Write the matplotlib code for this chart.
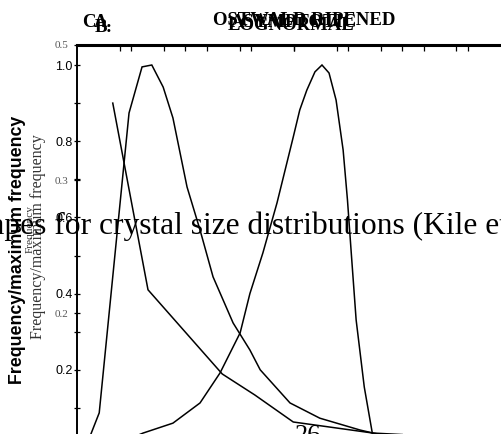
import matplotlib
matplotlib.use("Agg")
import matplotlib.pyplot as plt
from matplotlib.ticker import MultipleLocator

W, H = 501, 434

# crystal size (arbitrary units) and frequency / maximum frequency
lognormal_x = [1.7, 4.1, 9.6, 12.0, 13.8, 15.9, 17.7, 20.3, 22.7, 25.1, 28.8, 31.9, 33.8, 39.3, 44.8, 52.2, 54.6, 60.0]
lognormal_y = [0.0, 0.087, 0.874, 0.995, 1.0, 0.942, 0.861, 0.68, 0.567, 0.444, 0.323, 0.252, 0.2, 0.113, 0.073, 0.042, 0.034, 0.02]

asymptotic_x = [6.6, 13.1, 26.8, 32.8, 39.9, 54.6, 60.0]
asymptotic_y = [0.9, 0.41, 0.189, 0.134, 0.063, 0.034, 0.03]

ostwald_x = [6.5, 12.2, 17.7, 22.7, 26.4, 30.1, 31.9, 34.3, 36.9, 39.9, 41.1, 42.4, 43.9, 45.2, 46.5, 47.8, 49.1, 49.9, 50.6, 51.5, 53.0, 54.9]
ostwald_y = [0.0, 0.034, 0.06, 0.113, 0.192, 0.297, 0.4, 0.507, 0.638, 0.811, 0.882, 0.934, 0.982, 1.0, 0.979, 0.908, 0.777, 0.646, 0.507, 0.331, 0.155, 0.0]

panel_labels = ["C.", "A.", "B."]
panel_titles = ["OSTWALD RIPENED", "ASYMPTOTIC", "LOGNORMAL"]
ylabel = "Frequency/maximum frequency"
caption = "Shapes for crystal size distributions (Kile et al., 2000)"
page_no = "26"
alt_ticklabels = ["0.5", "0.3", "0.2"]
alt_tickpos = [1.0525, 0.698, 0.349]

def fx(px): return px / W
def fy(py): return 1 - py / H

fig = plt.figure(figsize=(W / 100, H / 100), dpi=100)
rect = [fx(77), fy(446), 443 / W, 401 / H]
ax = fig.add_axes(rect)
ax.set_xlim(0, 443 / 5.42); ax.set_ylim(0, 401 / 381)
for xs, ys in [(lognormal_x, lognormal_y), (asymptotic_x, asymptotic_y), (ostwald_x, ostwald_y)]:
    ax.plot(xs, ys, color='black', lw=1.1, solid_joinstyle='miter')

ax.spines['right'].set_visible(False); ax.spines['bottom'].set_visible(False)
ax.spines['top'].set_linewidth(2.2); ax.spines['left'].set_linewidth(1.4)
ax.xaxis.tick_top(); ax.set_xticks(range(10, 80, 10))
ax.tick_params(axis='x', direction='in', length=4, width=0.9, labeltop=False)
ax.yaxis.set_major_locator(MultipleLocator(0.2)); ax.yaxis.set_minor_locator(MultipleLocator(0.1))
ax.set_yticks([0.2, 0.4, 0.6, 0.8, 1.0])
ax.set_yticklabels(["0.2", "0.4", "0.6", "0.8", "1.0"], fontfamily='Liberation Sans', fontsize=9)
ax.tick_params(axis='y', which='both', direction='inout', length=4, width=0.9, pad=1)

# second overlaid axis (other panel)
ax2 = fig.add_axes(rect, frameon=False)
ax2.patch.set_visible(False)
ax2.set_xlim(0, 443 / 43.4); ax2.set_ylim(0, 401 / 381)
ax2.xaxis.tick_top(); ax2.set_xticks(range(1, 10))
ax2.tick_params(axis='x', direction='in', length=4, width=0.9, labeltop=False)
ax2.set_yticks(alt_tickpos)
ax2.set_yticklabels(alt_ticklabels, fontfamily='Liberation Serif', fontsize=8, color='#555555')
ax2.tick_params(axis='y', direction='inout', length=4, width=0.9, pad=4)

serif_b = dict(fontfamily='Liberation Serif', fontweight='bold', fontsize=13.5, va='baseline')
for lab, px, py in zip(panel_labels, [82, 94, 95], [27, 27, 32]):
    fig.text(fx(px), fy(py), lab, ha='left', **serif_b)
for t, px, py in zip(panel_titles, [304, 294, 291], [25, 27, 30]):
    fig.text(fx(px), fy(py), t, ha='center', **serif_b)

fig.text(fx(18), fy(250), ylabel, rotation=90, ha='center', va='center',
         fontfamily='Liberation Sans', fontweight='bold', fontsize=12.8)
fig.text(fx(38), fy(237), ylabel, rotation=90, ha='center', va='center',
         fontfamily='Liberation Serif', fontsize=11.5, color='#333333')
fig.text(fx(30), fy(229), "Frequency", rotation=90, ha='center', va='center',
         fontfamily='Liberation Serif', fontsize=8.2, color='#333333')

fig.text(fx(-43), fy(234), caption, ha='left', va='baseline',
         fontfamily='Liberation Serif', fontsize=22.7)
fig.text(fx(295), fy(442), page_no, ha='left', va='baseline',
         fontfamily='Liberation Serif', fontsize=19)

fig.savefig("out.png", dpi=100)
